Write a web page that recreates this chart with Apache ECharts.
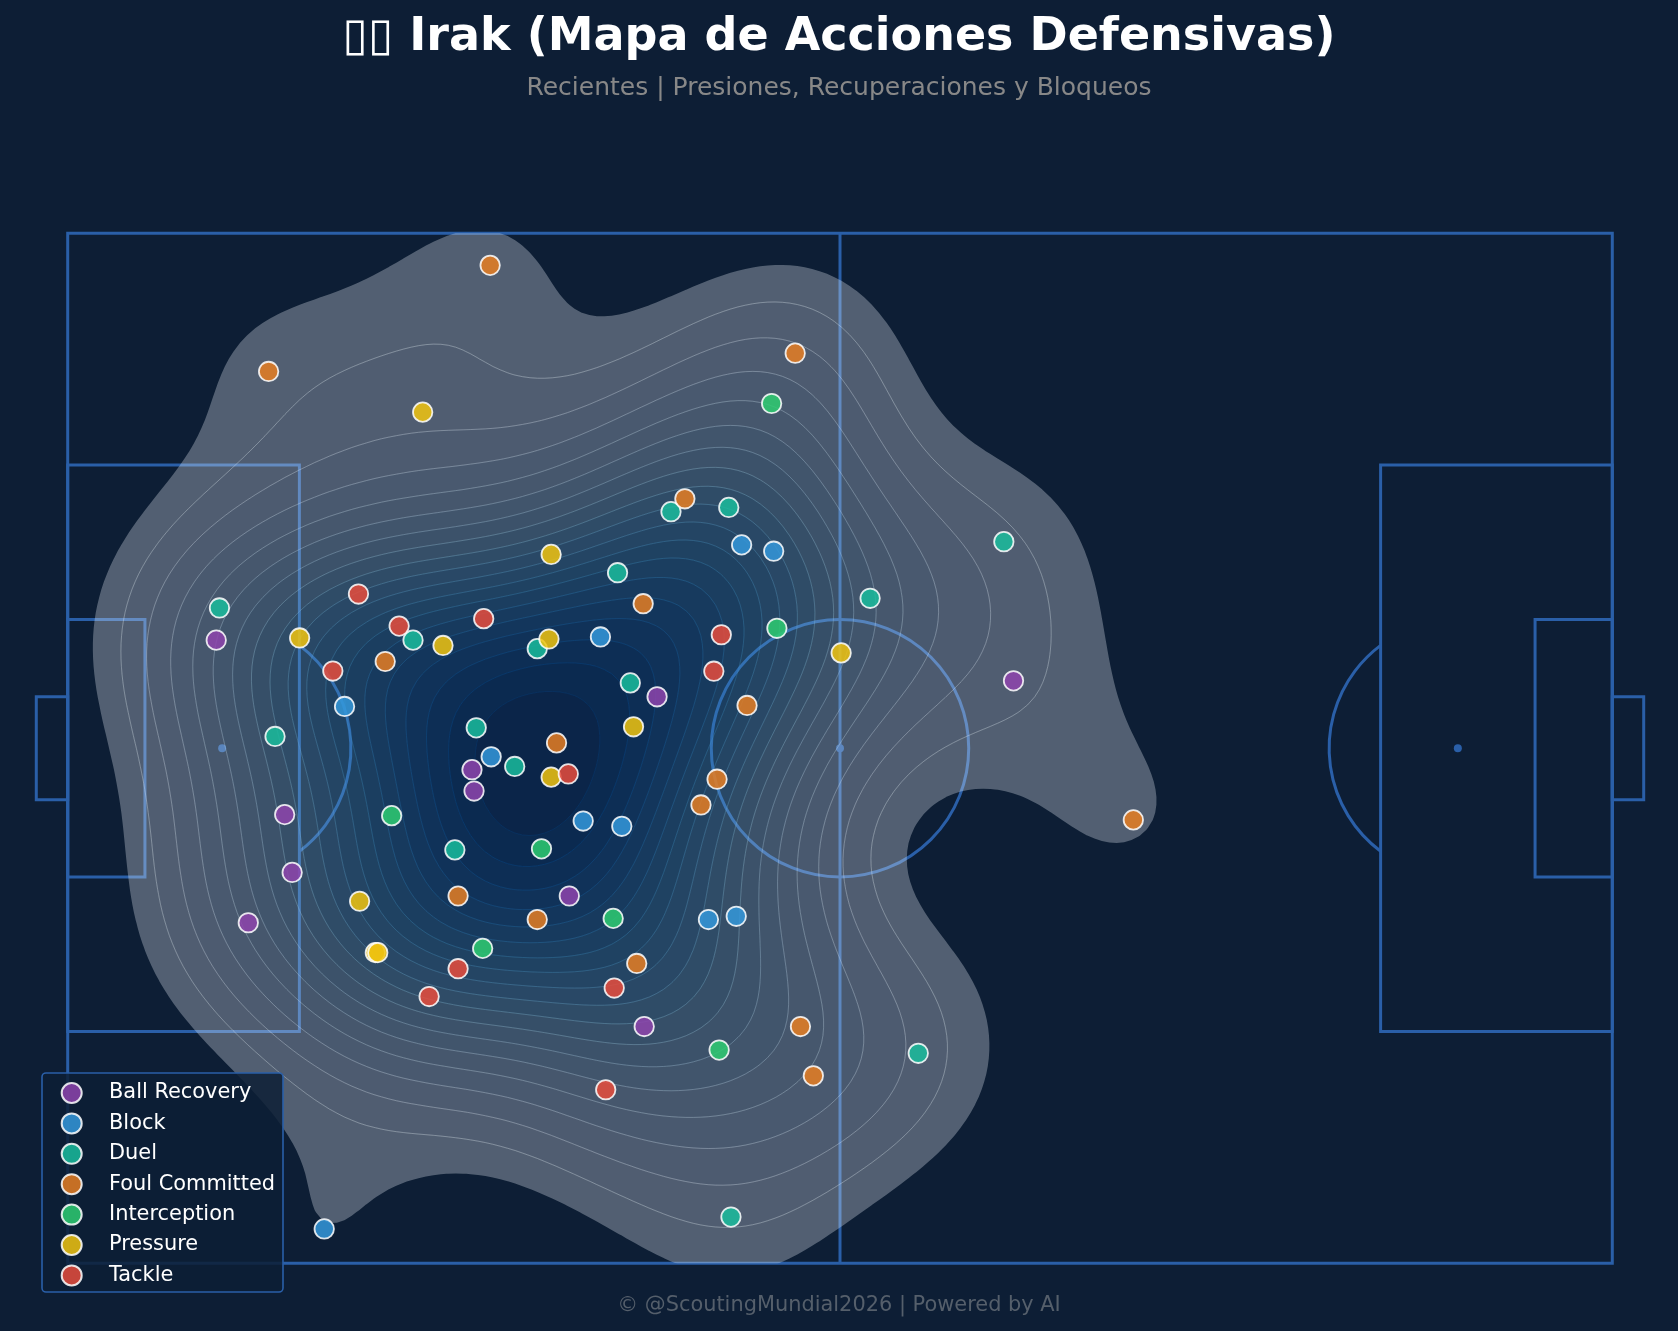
<!DOCTYPE html>
<html>
<head>
<meta charset="utf-8">
<script src="https://cdn.jsdelivr.net/npm/echarts@6/dist/echarts.min.js"></script>
<style>html,body{margin:0;padding:0;background:#0d1e35}#c{width:1678px;height:1331px}</style>
</head>
<body>
<div id="c"></div>
<script>
// Defensive actions, pitch coordinates 120 x 80 (x along the pitch, y downwards)
const ballRecovery = [[11.54,31.6],[45.79,36.0],[73.48,34.76],[31.41,41.66],[31.57,43.32],[16.86,45.15],[17.44,49.64],[14.03,53.55],[38.97,51.47],[44.79,61.61]];
const block = [[52.36,24.2],[54.85,24.69],[41.39,31.35],[21.51,36.75],[32.9,40.66],[40.05,45.65],[43.05,46.06],[49.78,53.3],[51.94,53.05],[19.93,77.33]];
const duel = [[46.87,21.62],[51.36,21.29],[72.73,23.95],[42.72,26.36],[62.34,28.35],[11.79,29.1],[26.83,31.6],[36.48,32.26],[43.71,34.92],[31.74,38.41],[16.11,39.08],[34.73,41.41],[30.08,47.89],[66.08,63.69],[51.53,76.41]];
const foulCommitted = [[32.82,2.49],[15.61,10.73],[56.52,9.31],[47.95,20.62],[44.71,28.77],[24.67,33.26],[52.78,36.67],[37.98,39.58],[50.45,42.4],[49.2,44.4],[82.79,45.56],[30.33,51.47],[36.48,53.3],[44.21,56.71],[56.93,61.61],[57.93,65.44]];
const interception = [[54.69,13.22],[55.1,30.68],[25.17,45.23],[36.81,47.81],[42.38,53.21],[32.24,55.54],[50.61,63.44]];
const pressure = [[27.58,13.89],[37.56,24.94],[18.02,31.43],[29.16,32.01],[37.39,31.51],[60.09,32.59],[43.96,38.33],[37.56,42.24],[22.68,51.88],[23.9,55.87],[24.09,55.87]];
const tackle = [[22.59,28.02],[25.75,30.51],[32.32,29.93],[20.6,34.0],[50.78,31.18],[50.2,34.01],[38.89,41.99],[30.33,57.12],[28.08,59.28],[42.46,58.62],[41.8,66.52]];

const seriesNames = ['Ball Recovery','Block','Duel','Foul Committed','Interception','Pressure','Tackle'];
const seriesPoints = [ballRecovery,block,duel,foulCommitted,interception,pressure,tackle];
const seriesColors = ['#8e44ad','#3498db','#1abc9c','#e67e22','#2ecc71','#f1c40f','#e74c3c'];

// Pitch markings in pitch units
const PITCH_RECTS = [[0,0,120,80],[0,18,18,44],[102,18,18,44],[0,30,6,20],[114,30,6,20],[-2.44,36,2.44,8],[120,36,2.44,8]];
const PITCH_SEGMENTS = [[60,0,60,80]];
const PITCH_SPOTS = [[12,40],[108,40],[60,40]];
const LINE_COLOR = '#2a5fa8';

const BLUES = ['#f7fbff','#deebf7','#c6dbef','#9ecae1','#6baed6','#4292c6','#2171b5','#08519c','#08306b'].map(h=>[parseInt(h.slice(1,3),16),parseInt(h.slice(3,5),16),parseInt(h.slice(5,7),16)]);
function blues(t){
  t=Math.max(0,Math.min(1,t))*(BLUES.length-1);
  const i=Math.min(Math.floor(t),BLUES.length-2),f=t-i;
  return BLUES[i].map((v,k)=>Math.round(v+(BLUES[i+1][k]-v)*f));
}

// Bivariate gaussian KDE with Scott bandwidth over all actions
const LEVEL_COUNT = 20, THRESH = 0.068, GRID = 200, CUT = 3;
function buildKde(points){
  const n=points.length;
  const mx=points.reduce((a,p)=>a+p[0],0)/n,my=points.reduce((a,p)=>a+p[1],0)/n;
  let sxx=0,syy=0,sxy=0;
  points.forEach(p=>{sxx+=(p[0]-mx)**2;syy+=(p[1]-my)**2;sxy+=(p[0]-mx)*(p[1]-my);});
  sxx/=n-1;syy/=n-1;sxy/=n-1;
  const fac=Math.pow(n,-1/6),f2=fac*fac;
  const cxx=sxx*f2,cyy=syy*f2,cxy=sxy*f2,det=cxx*cyy-cxy*cxy;
  const ixx=cyy/det,iyy=cxx/det,ixy=-cxy/det;
  const xs=points.map(p=>p[0]),ys=points.map(p=>p[1]);
  const x0=Math.min(...xs)-CUT*Math.sqrt(cxx),x1=Math.max(...xs)+CUT*Math.sqrt(cxx);
  const y0=Math.min(...ys)-CUT*Math.sqrt(cyy),y1=Math.max(...ys)+CUT*Math.sqrt(cyy);
  const dx=(x1-x0)/(GRID-1),dy=(y1-y0)/(GRID-1);
  const z=new Float64Array(GRID*GRID);
  for(let j=0;j<GRID;j++){
    const y=y0+j*dy;
    for(let i=0;i<GRID;i++){
      if(i===0||j===0||i===GRID-1||j===GRID-1){z[j*GRID+i]=0;continue;}
      const x=x0+i*dx;let s=0;
      for(let k=0;k<n;k++){
        const a=x-points[k][0],b=y-points[k][1];
        s+=Math.exp(-0.5*(a*a*ixx+2*a*b*ixy+b*b*iyy));
      }
      z[j*GRID+i]=s;
    }
  }
  return {z,x0,y0,dx,dy};
}
function isoLevels(z){
  const sorted=Array.from(z).sort((a,b)=>b-a);
  const total=sorted.reduce((a,b)=>a+b,0);
  const lower=new Float64Array(sorted.length);
  let c=0;
  for(let i=0;i<sorted.length;i++){c+=sorted[i];lower[i]=1-c/total;}
  const out=[];
  for(let l=0;l<LEVEL_COUNT;l++){
    const p=THRESH+(1-THRESH)*l/(LEVEL_COUNT-1);
    if(l===LEVEL_COUNT-1){out.push(sorted[0]);continue;}
    let i=0;while(i<lower.length-1&&lower[i]>p)i++;
    out.push(sorted[i]);
  }
  return out;
}
// Marching squares: directed loops, higher density on the left
function contourLoops(kde,level){
  const {z,x0,y0,dx,dy}=kde,N=GRID;
  const at=(i,j)=>z[j*N+i];
  const nextEdge=new Map(),pos=new Map();
  const hId=(i,j)=>2*(j*N+i),vId=(i,j)=>2*(j*N+i)+1;
  for(let j=0;j<N-1;j++)for(let i=0;i<N-1;i++){
    const corners=[at(i,j),at(i+1,j),at(i+1,j+1),at(i,j+1)];
    const hi=corners.map(v=>v>=level);
    if(hi[0]===hi[1]&&hi[1]===hi[2]&&hi[2]===hi[3])continue;
    const edges=[hId(i,j),vId(i+1,j),hId(i,j+1),vId(i,j)];
    const cross=[];
    for(let e=0;e<4;e++){
      const a=e,b=(e+1)%4;
      if(hi[a]===hi[b])continue;
      const t=(level-corners[a])/(corners[b]-corners[a]);
      const cx=[i,i+1,i+1,i],cy=[j,j,j+1,j+1];
      const px=cx[a]+(cx[b]-cx[a])*t,py=cy[a]+(cy[b]-cy[a])*t;
      pos.set(edges[e],[x0+px*dx,y0+py*dy]);
      cross.push({id:edges[e],start:hi[a]});
    }
    for(let c=0;c<cross.length;c++){
      if(cross[c].start){nextEdge.set(cross[c].id,cross[(c+1)%cross.length].id);}
    }
  }
  const loops=[],seen=new Set();
  for(const s of nextEdge.keys()){
    if(seen.has(s))continue;
    const loop=[];let e=s;
    while(e!==undefined&&!seen.has(e)){seen.add(e);loop.push(pos.get(e));e=nextEdge.get(e);}
    if(loop.length>2)loops.push(loop);
  }
  return loops;
}

const allPoints=[].concat(...seriesPoints);
const kde=buildKde(allPoints);
const levels=isoLevels(kde.z);
const loopsByLevel=levels.map((l,i)=>contourLoops(kde,i===levels.length-1?l*2:l));
const lowLevel=levels[0],topLevel=levels[levels.length-1];

function loopPath(loop,api,reverse){
  const pts=reverse?loop.slice().reverse():loop;
  return pts.map((p,i)=>{const c=api.coord(p);return (i?'L':'M')+c[0].toFixed(2)+' '+c[1].toFixed(2);}).join('')+'Z';
}

const chart=echarts.init(document.getElementById('c'),null,{renderer:'canvas'});
const FILL_ALPHA=0.3,EDGE_ALPHA=0.35;

const option={
  backgroundColor:'#0d1e35',
  animation:false,
  title:[
    {text:'▯▯ Irak (Mapa de Acciones Defensivas)',left:'center',top:10,textStyle:{color:'#ffffff',fontFamily:'DejaVu Sans',fontWeight:'bold',fontSize:46}},
    {text:'Recientes | Presiones, Recuperaciones y Bloqueos',left:'center',top:71,textStyle:{color:'#888888',fontFamily:'DejaVu Sans',fontWeight:'normal',fontSize:25}},
    {text:'© @ScoutingMundial2026 | Powered by AI',left:'center',top:1290,textStyle:{color:'#555f6b',fontFamily:'DejaVu Sans',fontWeight:'normal',fontSize:20.9}}
  ],
  grid:{left:67.7,top:233.3,width:1544.6,height:1030,containLabel:false},
  xAxis:{type:'value',min:0,max:120,show:false},
  yAxis:{type:'value',min:0,max:80,inverse:true,show:false},
  legend:{
    left:60.7,top:1082,orient:'vertical',padding:0,itemWidth:20,itemHeight:20,itemGap:8.4,icon:'circle',
    data:seriesNames,
    textStyle:{color:'#ffffff',fontFamily:'DejaVu Sans',fontSize:20.9,lineHeight:20,padding:[0,0,0,22.3]},
    z:30
  },
  graphic:[{type:'rect',z:20,silent:true,shape:{x:42,y:1073,width:241,height:219,r:4},style:{fill:'rgba(13,30,53,0.85)',stroke:'#2a5fa8',lineWidth:1.6}}],
  series:[
    {
      // Pitch markings
      type:'custom',coordinateSystem:'cartesian2d',clip:false,silent:true,z:1,
      data:[[0,0]],
      renderItem(params,api){
        const children=[];
        const style={stroke:LINE_COLOR,fill:'none',lineWidth:3};
        PITCH_RECTS.forEach(r=>{
          const a=api.coord([r[0],r[1]]),b=api.coord([r[0]+r[2],r[1]+r[3]]);
          children.push({type:'rect',shape:{x:a[0],y:a[1],width:b[0]-a[0],height:b[1]-a[1]},style});
        });
        PITCH_SEGMENTS.forEach(s=>{
          const a=api.coord([s[0],s[1]]),b=api.coord([s[2],s[3]]);
          children.push({type:'line',shape:{x1:a[0],y1:a[1],x2:b[0],y2:b[1]},style});
        });
        const c=api.coord([60,40]),rad=api.size([10,0])[0];
        children.push({type:'circle',shape:{cx:c[0],cy:c[1],r:rad},style});
        const halfAngle=Math.acos(0.6);
        const l=api.coord([12,40]),r=api.coord([108,40]);
        children.push({type:'arc',shape:{cx:l[0],cy:l[1],r:rad,startAngle:-halfAngle,endAngle:halfAngle},style});
        children.push({type:'arc',shape:{cx:r[0],cy:r[1],r:rad,startAngle:Math.PI-halfAngle,endAngle:Math.PI+halfAngle},style});
        PITCH_SPOTS.forEach(s=>{
          const p=api.coord(s);
          children.push({type:'circle',shape:{cx:p[0],cy:p[1],r:4},style:{fill:LINE_COLOR,stroke:'none'}});
        });
        return {type:'group',children};
      }
    },
    {
      // Density bands with their contour lines
      type:'custom',coordinateSystem:'cartesian2d',clip:true,silent:true,z:2,
      data:levels.slice(0,-1).map((l,i)=>[i,0]),
      renderItem(params,api){
        const i=api.value(0);
        const mid=(levels[i]+levels[i+1])/2;
        const rgb=blues((mid-lowLevel)/(topLevel-lowLevel));
        const outer=loopsByLevel[i].map(lp=>loopPath(lp,api,false)).join('');
        const inner=loopsByLevel[i+1].map(lp=>loopPath(lp,api,true)).join('');
        const children=[{type:'path',shape:{pathData:outer+inner},style:{fill:`rgba(${rgb.join(',')},${FILL_ALPHA})`,stroke:'none'}}];
        if(i>0){
          const e=blues((levels[i]-lowLevel)/(topLevel-lowLevel));
          children.push({type:'path',shape:{pathData:outer},style:{fill:'none',stroke:`rgba(${e.join(',')},${EDGE_ALPHA})`,lineWidth:1}});
        }
        return {type:'group',children};
      }
    }
  ].concat(seriesNames.map((name,i)=>({
    name,type:'scatter',z:10+i,data:seriesPoints[i],symbol:'circle',symbolSize:19.4,
    itemStyle:{color:seriesColors[i],opacity:0.85,borderColor:'#ffffff',borderWidth:1.8}
  })))
};
chart.setOption(option);
</script>
</body>
</html>
